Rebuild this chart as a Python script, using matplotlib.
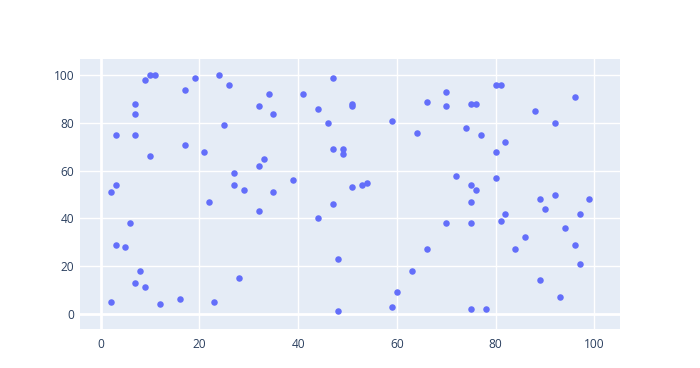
import matplotlib
matplotlib.use("Agg")
import matplotlib.pyplot as plt

# values
x = [2, 2, 3, 3, 3, 5, 6, 7, 7, 7, 7, 8, 9, 9, 10, 10, 11, 12, 16, 17,
     17, 19, 21, 22, 23, 24, 25, 26, 27, 27, 28, 29, 32, 32, 32, 33, 34, 35, 35, 39,
     41, 44, 44, 46, 47, 47, 47, 48, 48, 49, 49, 51, 51, 51, 53, 54, 59, 59, 60, 63,
     64, 66, 66, 70, 70, 70, 72, 74, 75, 75, 75, 75, 75, 76, 76, 77, 78, 80, 80, 80,
     81, 81, 82, 82, 84, 86, 88, 89, 89, 90, 92, 92, 93, 94, 96, 96, 97, 97, 99]
y = [5, 51, 75, 54, 29, 28, 38, 88, 84, 75, 13, 18, 98, 11, 100, 66, 100, 4, 6, 94,
     71, 99, 68, 47, 5, 100, 79, 96, 59, 54, 15, 52, 87, 62, 43, 65, 92, 84, 51, 56,
     92, 86, 40, 80, 99, 69, 46, 23, 1, 69, 67, 88, 87, 53, 54, 55, 81, 3, 9, 18,
     76, 89, 27, 93, 87, 38, 58, 78, 88, 54, 47, 38, 2, 88, 52, 75, 2, 96, 68, 57,
     96, 39, 72, 42, 27, 32, 85, 48, 14, 44, 80, 50, 7, 36, 91, 29, 42, 21, 48]

W, H = 700, 368
fig = plt.figure(figsize=(W / 100, H / 100), dpi=100)
ax = fig.add_axes([80 / W, 1 - 328.7 / H, 540 / W, 269.7 / H])
ax.set_facecolor("#E5ECF6")

ax.scatter(x, y, s=22, color="#636efa", linewidths=0, zorder=3)

ax.set_xlim(-4.2, 105.2)
ax.set_ylim(-6.3, 106.9)
ax.set_xticks([0, 20, 40, 60, 80, 100])
ax.set_yticks([0, 20, 40, 60, 80, 100])
ax.grid(True, color="white", lw=1, zorder=0)
ax.axhline(0, color="white", lw=2, zorder=1)
ax.axvline(0, color="white", lw=2, zorder=1)
for s in ax.spines.values():
    s.set_visible(False)
ax.tick_params(length=0, labelsize=8.6, labelcolor="#2a3f5f", pad=4)
for lab in ax.get_xticklabels() + ax.get_yticklabels():
    lab.set_fontfamily("Open Sans")
ax.tick_params(axis="x", pad=7)

fig.savefig("out.png", dpi=100, facecolor="white")
